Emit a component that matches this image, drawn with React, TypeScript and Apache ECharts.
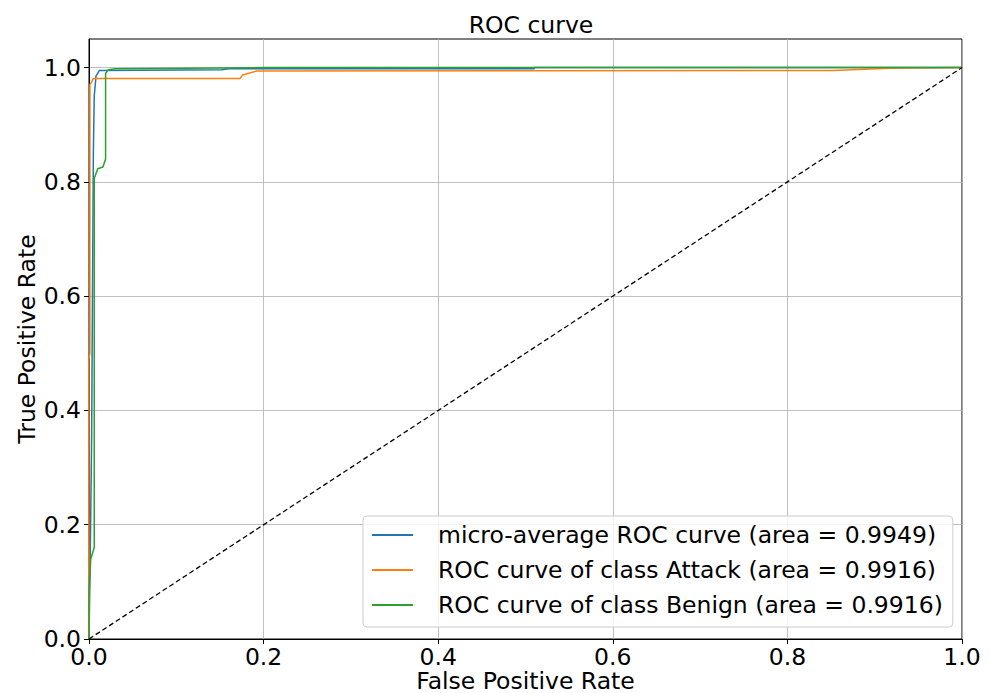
import React, { useEffect, useRef } from "react";
import * as echarts from "echarts";

const microFpr = [0, 0.001, 0.002, 0.003, 0.004, 0.005, 0.006, 0.008, 0.012, 0.152, 0.16, 0.51, 0.51, 1.0];
const microTpr = [0, 0.1, 0.22, 0.35, 0.6, 0.85, 0.95, 0.985, 0.995, 0.996, 0.998, 0.998, 1.0, 1.0];

const attackFpr = [0, 0, 0.001, 0.001, 0.003, 0.005, 0.173, 0.176, 0.192, 0.852, 0.917, 1.0];
const attackTpr = [0, 0.49, 0.5, 0.97, 0.975, 0.981, 0.981, 0.987, 0.994, 0.995, 0.999, 1.0];

const benignFpr = [0, 0, 0.002, 0.004, 0.006, 0.006, 0.01, 0.016, 0.019, 0.019, 0.022, 0.03, 0.2, 1.0];
const benignTpr = [0, 0.08, 0.14, 0.15, 0.16, 0.806, 0.823, 0.826, 0.84, 0.99, 0.996, 0.998, 1.0, 1.0];

const chanceX = [0, 1];
const chanceY = [0, 1];

const tickValues = [0, 0.2, 0.4, 0.6, 0.8, 1.0];

const names = [
  "micro-average ROC curve (area = 0.9949)",
  "ROC curve of class Attack (area = 0.9916)",
  "ROC curve of class Benign (area = 0.9916)",
];
const colors = ["#1f77b4", "#ff7f0e", "#2ca02c"];

const zip = (a: number[], b: number[]) => a.map((v, i) => [v, b[i]]);

const FONT = "DejaVu Sans";
const FS = 23.5;

export default function App() {
  const ref = useRef<HTMLDivElement>(null);
  useEffect(() => {
    if (!ref.current) return;
    const chart = echarts.init(ref.current, undefined, { renderer: "svg" });
    const fmt = (v: number) => (Math.abs(v - 1.05) < 1e-6 ? "" : v.toFixed(1));
    chart.setOption({
      animation: false,
      backgroundColor: "#ffffff",
      title: {
        text: "ROC curve",
        left: 526,
        top: 8,
        textAlign: "center",
        textStyle: { fontFamily: FONT, fontSize: FS, fontWeight: "normal", color: "#000" },
      },
      grid: {
        left: 89,
        right: 28,
        top: 39,
        bottom: 54,
        show: true,
        borderColor: "#000",
        borderWidth: 1,
        backgroundColor: "transparent",
        containLabel: false,
        outerBoundsMode: "none",
      },
      xAxis: {
        type: "value",
        min: 0,
        max: 1,
        interval: 0.2,
        name: "False Positive Rate",
        nameLocation: "middle",
        nameGap: 32,
        nameMoveOverlap: false,
        nameTextStyle: { fontFamily: FONT, fontSize: FS, lineHeight: 20, color: "#000" },
        axisLine: { show: true, lineStyle: { color: "#000", width: 1 } },
        axisTick: { show: true, length: 5, lineStyle: { color: "#000" } },
        axisLabel: { fontFamily: FONT, fontSize: FS, lineHeight: 20, color: "#000", margin: 8, formatter: fmt },
        splitLine: { show: true, lineStyle: { color: "#b0b0b0", width: 1, opacity: 0.8 } },
      },
      yAxis: {
        type: "value",
        min: 0,
        max: 1.05,
        interval: 0.2,
        name: "True Positive Rate",
        nameLocation: "middle",
        nameGap: 50,
        nameMoveOverlap: false,
        nameRotate: 90,
        nameTextStyle: { fontFamily: FONT, fontSize: FS, color: "#000" },
        axisLine: { show: true, lineStyle: { color: "#000", width: 1 } },
        axisTick: { show: true, length: 5, lineStyle: { color: "#000" }, customValues: tickValues },
        axisLabel: { fontFamily: FONT, fontSize: FS, lineHeight: 18, color: "#000", margin: 8, formatter: fmt, customValues: tickValues },
        splitLine: { show: true, lineStyle: { color: "#b0b0b0", width: 1, opacity: 0.8 } },
      },
      legend: {
        orient: "vertical",
        left: 363,
        top: 516,
        data: names.map((n) => ({ name: n, icon: "rect" })),
        itemWidth: 41,
        itemHeight: 2,
        itemGap: 11,
        padding: [7, 10, 10, 9],
        backgroundColor: "rgba(255,255,255,0.8)",
        borderColor: "#cccccc",
        borderWidth: 1,
        borderRadius: 4,
        textStyle: { fontFamily: FONT, fontSize: FS, lineHeight: 24, color: "#000", padding: [0, 0, 0, 20] },
      },
      series: [
        {
          name: names[0],
          type: "line",
          data: zip(microFpr, microTpr),
          symbol: "none",
          lineStyle: { color: colors[0], width: 1.5 },
          itemStyle: { color: colors[0] },
          z: 3,
        },
        {
          name: names[1],
          type: "line",
          data: zip(attackFpr, attackTpr),
          symbol: "none",
          lineStyle: { color: colors[1], width: 1.5 },
          itemStyle: { color: colors[1] },
          z: 4,
        },
        {
          name: names[2],
          type: "line",
          data: zip(benignFpr, benignTpr),
          symbol: "none",
          lineStyle: { color: colors[2], width: 1.5 },
          itemStyle: { color: colors[2] },
          z: 5,
        },
        {
          name: "chance",
          type: "line",
          data: zip(chanceX, chanceY),
          symbol: "none",
          lineStyle: { color: "#000", width: 1.3, type: [5, 3] },
          z: 6,
        },
      ],
    });
    return () => chart.dispose();
  }, []);
  return <div ref={ref} style={{ width: 990, height: 693, position: "absolute", left: 0, top: 0 }} />;
}
